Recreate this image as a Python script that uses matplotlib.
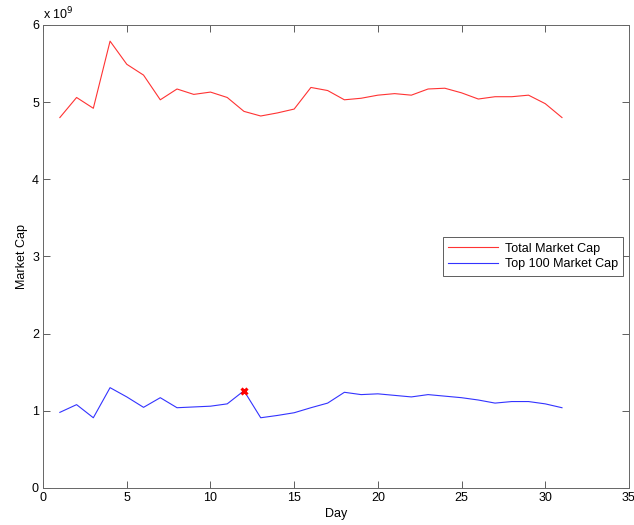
import matplotlib.pyplot as plt

plt.rcParams['font.family'] = ['Liberation Sans', 'DejaVu Sans']
plt.rcParams['font.size'] = 9

days = list(range(1, 32))
total_cap = [4.80, 5.06, 4.92, 5.79, 5.49, 5.35, 5.03, 5.17, 5.10, 5.13,
             5.06, 4.88, 4.82, 4.86, 4.91, 5.19, 5.15, 5.03, 5.05, 5.09,
             5.11, 5.09, 5.17, 5.18, 5.12, 5.04, 5.07, 5.07, 5.09, 4.98, 4.80]
top100_cap = [0.98, 1.08, 0.91, 1.30, 1.18, 1.045, 1.17, 1.04, 1.05, 1.06,
              1.09, 1.26, 0.91, 0.94, 0.975, 1.04, 1.10, 1.24, 1.21, 1.22,
              1.20, 1.18, 1.21, 1.19, 1.17, 1.14, 1.10, 1.12, 1.12, 1.09, 1.04]
scale = 1e9
marker_day = 12

fig = plt.figure(figsize=(6.34, 5.25), dpi=100)
ax = fig.add_axes([0.068, 0.0705, 0.924, 0.882])

ax.plot(days, [v * scale for v in total_cap], color='#ff3333', lw=0.8, label='Total Market Cap')
ax.plot(days, [v * scale for v in top100_cap], color='#3333ff', lw=0.8, label='Top 100 Market Cap')
i = days.index(marker_day)
ax.plot(marker_day, top100_cap[i] * scale, 'x', color='red', ms=5, mew=2.2)

ax.set_xlim(0, 35)
ax.set_ylim(0, 6e9)
ax.set_xticks(range(0, 36, 5))
ax.set_yticks([k * 1e9 for k in range(7)])
ax.set_yticklabels([str(k) for k in range(7)])
ax.text(0.0, 1.005, r'x 10$^9$', transform=ax.transAxes, fontsize=9, va='bottom', ha='left')

ax.tick_params(direction='in', top=True, right=True, length=5, width=0.6, colors='#444444',
               labelcolor='black', pad=3)
for s in ax.spines.values():
    s.set_linewidth(0.7)
    s.set_color('#666666')

ax.set_xlabel('Day', labelpad=3)
ax.set_ylabel('Market Cap', labelpad=3)

leg = ax.legend(loc='center right', bbox_to_anchor=(0.995, 0.5), fancybox=False,
                edgecolor='#444444', framealpha=1, handlelength=4.0, borderpad=0.45,
                labelspacing=0.3, handletextpad=0.5, borderaxespad=0.2)
leg.get_frame().set_linewidth(0.6)

fig.savefig('out.png', dpi=100)
